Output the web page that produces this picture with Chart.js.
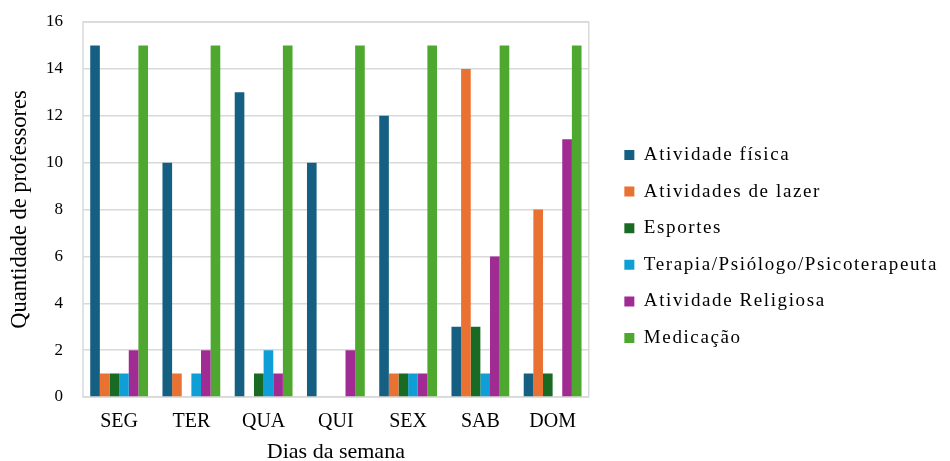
<!DOCTYPE html>
<html lang="pt">
<head>
<meta charset="utf-8">
<title>Dias da semana</title>
<script src="https://cdn.jsdelivr.net/npm/chart.js@4/dist/chart.umd.min.js"></script>
<style>
  html, body { margin: 0; padding: 0; background: #fff; }
  #wrap { width: 950px; height: 461px; position: relative; }
</style>
</head>
<body>
<div id="wrap"><canvas id="grafico"></canvas></div>
<script>
"use strict";

// dias da semana (eixo x)
const dias = ["SEG", "TER", "QUA", "QUI", "SEX", "SAB", "DOM"];

// número de professores por atividade
const atividadeFisica = [15, 10, 13, 10, 12, 3, 1];
const atividadesLazer = [1, 1, 0, 0, 1, 14, 8];
const esportes = [1, 0, 1, 0, 1, 3, 1];
const terapia = [1, 1, 2, 0, 1, 1, 0];
const atividadeReligiosa = [2, 2, 1, 2, 1, 6, 11];
const medicacao = [15, 15, 15, 15, 15, 15, 15];

const series = [
  { label: "Atividade física", data: atividadeFisica, color: "#156082" },
  { label: "Atividades de lazer", data: atividadesLazer, color: "#E97132" },
  { label: "Esportes", data: esportes, color: "#196B24" },
  { label: "Terapia/Psiólogo/Psicoterapeuta", data: terapia, color: "#0F9ED5" },
  { label: "Atividade Religiosa", data: atividadeReligiosa, color: "#A02B93" },
  { label: "Medicação", data: medicacao, color: "#4EA72E" },
];

const serif = "'Liberation Serif', 'Times New Roman', serif";
const gridColor = "#d9d9d9";

// contorno cinza da área do gráfico
const plotBox = {
  id: "plotBox",
  beforeDatasetsDraw(chart) {
    const { ctx, chartArea: a } = chart;
    ctx.save();
    ctx.strokeStyle = gridColor;
    ctx.lineWidth = 1.5;
    ctx.strokeRect(a.left, a.top, a.right - a.left, a.bottom - a.top);
    ctx.restore();
  },
};

// legenda com letras mais espaçadas (medida e desenho)
const legendSpacing = {
  id: "legendSpacing",
  beforeUpdate(chart) {
    const lg = chart.legend;
    if (!lg || lg._espacada) return;
    lg._espacada = true;
    ["fit", "draw"].forEach((name) => {
      const orig = lg[name].bind(lg);
      lg[name] = (...args) => {
        const prev = lg.ctx.letterSpacing;
        lg.ctx.letterSpacing = "1.6px";
        try {
          return orig(...args);
        } finally {
          lg.ctx.letterSpacing = prev;
        }
      };
    });
  },
};

function desenhar() {
  new Chart(document.getElementById("grafico"), {
    type: "bar",
    data: {
      labels: dias,
      datasets: series.map((s) => ({
        label: s.label,
        data: s.data,
        backgroundColor: s.color,
        borderWidth: 0,
        categoryPercentage: 0.8,
        barPercentage: 1,
        yAxisID: "y",
      })),
    },
    options: {
      responsive: true,
      maintainAspectRatio: false,
      animation: false,
      layout: { padding: { top: 7, right: 2, bottom: 0, left: 4 } },
      plugins: {
        tooltip: { enabled: false },
        legend: {
          position: "right",
          align: "center",
          maxWidth: 420,
          title: { display: true, text: " ", font: { size: 10 }, padding: 6.5 },
          labels: {
            color: "#000",
            font: { family: serif, size: 19 },
            boxWidth: 10,
            boxHeight: 10,
            padding: 17.6,
          },
        },
      },
      scales: {
        x: {
          grid: { display: false, drawTicks: false },
          border: { display: false },
          ticks: { color: "#000", font: { family: serif, size: 20 }, padding: 13 },
          title: {
            display: true,
            text: "Dias da semana",
            color: "#000",
            font: { family: serif, size: 22 },
            padding: { top: 0, bottom: -4 },
          },
          afterFit(scale) {
            scale.height = 64;
          },
        },
        y: {
          min: 0,
          max: 16,
          ticks: { stepSize: 2, color: "#000", font: { family: serif, size: 17 }, padding: 20 },
          grid: { color: gridColor, lineWidth: 1.5, drawTicks: false },
          border: { display: false },
          title: {
            display: true,
            text: "Quantidade de professores",
            color: "#000",
            font: { family: serif, size: 22.5 },
            padding: { top: 3, bottom: 0 },
          },
          afterFit(scale) {
            scale.width = 79;
            scale.paddingTop = 22; // topo da área sem o recuo extra dos rótulos
          },
        },
        // eixo vazio à direita, só para afastar a legenda
        espaco: {
          position: "right",
          grid: { display: false, drawTicks: false },
          border: { display: false },
          ticks: { display: false },
          afterFit(scale) {
            scale.width = 18;
          },
        },
      },
    },
    plugins: [plotBox, legendSpacing],
  });
}

document.fonts.load("19px 'Liberation Serif'").then(desenhar, desenhar);
</script>
</body>
</html>
